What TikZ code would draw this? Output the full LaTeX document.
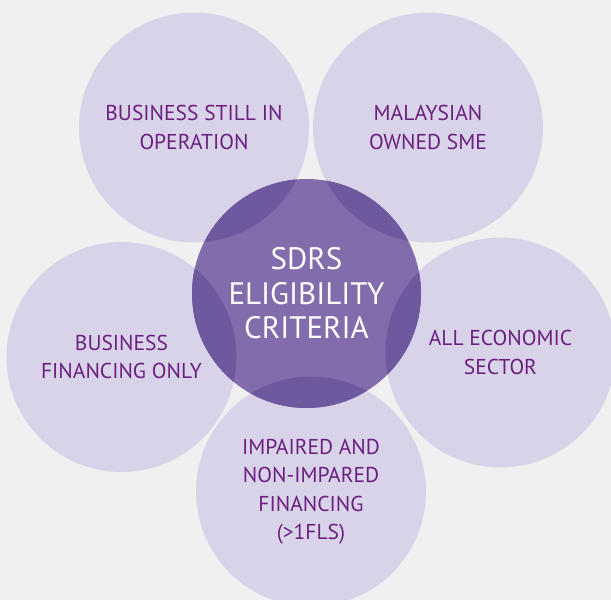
\documentclass[tikz,border=0pt]{standalone}
\usepackage{fontspec}
\setmainfont{PT Sans}
\definecolor{bgc}{HTML}{F0F0F0}
\definecolor{lightc}{HTML}{D9D3EA}
\definecolor{ctrc}{HTML}{836CAC}
\definecolor{ovlc}{HTML}{6E589E}
\definecolor{txtc}{HTML}{6B1F7F}
\tikzset{
  bubble/.style={circle, minimum size=230pt, inner sep=0pt, fill=lightc, text=txtc, align=center,
    font=\fontsize{21.5}{28.5}\selectfont},
  hub/.style={circle, minimum size=229pt, inner sep=0pt, fill=ctrc, text=white, align=center,
    font=\fontsize{31}{34.5}\selectfont}
}
\begin{document}
\begin{tikzpicture}[x=1pt,y=-1pt]
\clip (0,0) rectangle (611,600);
\fill[bgc] (0,0) rectangle (611,600);
\node[bubble] (tl) at (194,127.5) {BUSINESS STILL IN\\OPERATION};
\node[bubble] (tr) at (428,127.5) {MALAYSIAN\\OWNED SME};
\node[bubble] (lf) at (121.5,357) {BUSINESS\\FINANCING ONLY};
\node[bubble] (rt) at (500.5,352.5) {ALL ECONOMIC\\SECTOR};
\node[bubble] (bt) at (311,491.5) {IMPAIRED AND\\NON-IMPARED\\FINANCING\\(>1FLS)};
\node[hub, path picture={
  \fill[ovlc] (tl) circle (115pt);
  \fill[ovlc] (tr) circle (115pt);
  \fill[ovlc] (lf) circle (115pt);
  \fill[ovlc] (rt) circle (115pt);
  \fill[ovlc] (bt) circle (115pt);
}] (ctr) at (306.5,293.5) {SDRS\\ELIGIBILITY\\CRITERIA};
\end{tikzpicture}
\end{document}
